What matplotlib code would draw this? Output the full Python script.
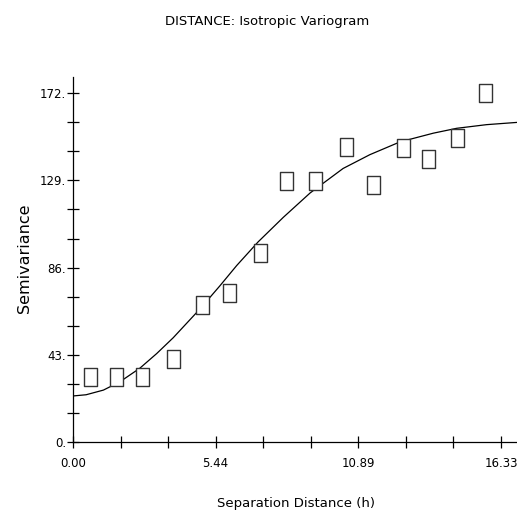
import numpy as np
import matplotlib.pyplot as plt
from matplotlib.path import Path

# Datos del variograma experimental
lag = [0.66, 1.64, 2.64, 3.80, 4.93, 5.96, 7.12, 8.11, 9.23,
       10.40, 11.43, 12.59, 13.52, 14.65, 15.72]
semiv = [32.2, 32.2, 32.2, 40.8, 67.4, 73.6, 93.0, 128.7, 128.7,
         145.6, 126.7, 144.8, 139.5, 149.7, 171.9]

# Modelo ajustado
h_mod = [0.0, 0.5, 1.16, 1.79, 2.55, 3.19, 3.82, 4.84, 5.60, 6.24, 7.06,
         8.02, 9.04, 10.30, 11.32, 12.47, 13.74, 14.63, 15.77, 16.92]
g_mod = [22.7, 23.3, 25.6, 29.7, 36.4, 43.6, 51.4, 65.6, 77.0, 87.0, 98.7,
         110.8, 122.8, 134.9, 141.7, 148.0, 152.3, 154.7, 156.5, 157.6]

xlabs = ['0.00', '5.44', '10.89', '16.33']
ylabs = ['0.', '43.', '86.', '129.', '172.']

plt.rcParams['font.family'] = ['DejaVu Sans']

# Marcador rectangular (mas alto que ancho)
caja = Path([(-0.36, -0.5), (0.36, -0.5), (0.36, 0.5), (-0.36, 0.5), (-0.36, -0.5)],
            [Path.MOVETO, Path.LINETO, Path.LINETO, Path.LINETO, Path.CLOSEPOLY])

fig = plt.figure(figsize=(5.17, 5.17), dpi=100)
ax = fig.add_axes([73/517, 75/517, 444/517, 365/517])
ax.plot(h_mod, g_mod, color='black', lw=0.9)
ax.plot(lag, semiv, ls='none', marker=caja, ms=13, mfc='white', mec='#333333', mew=1.0)

ax.set_xlim(0, 16.93)
ax.set_ylim(0, 180)
for s in ['top', 'right']:
    ax.spines[s].set_visible(False)
for s in ['left', 'bottom']:
    ax.spines[s].set_linewidth(0.9)

# marcas cada tercio del intervalo rotulado
ax.set_xticks(np.arange(10)*5.44/3)
ax.set_xticklabels(sum([[l, '', ''] for l in xlabs], [])[:10])
ax.set_yticks(np.arange(13)*43/3)
ax.set_yticklabels(sum([[l, '', ''] for l in ylabs], [])[:13])
ax.tick_params(direction='inout', length=8, width=0.9, labelsize=8.5, color='black')
ax.tick_params(axis='x', pad=7)
ax.tick_params(axis='y', pad=1)

fig.text(267/517, 1-22/517, 'DISTANCE: Isotropic Variogram', ha='center', va='center', fontsize=9.5)
fig.text(296/517, 1-503/517, 'Separation Distance (h)', ha='center', va='center', fontsize=9.5)
fig.text(25/517, 1-258/517, 'Semivariance', ha='center', va='center', rotation=90,
         fontsize=11.5)

fig.savefig('out.png')
